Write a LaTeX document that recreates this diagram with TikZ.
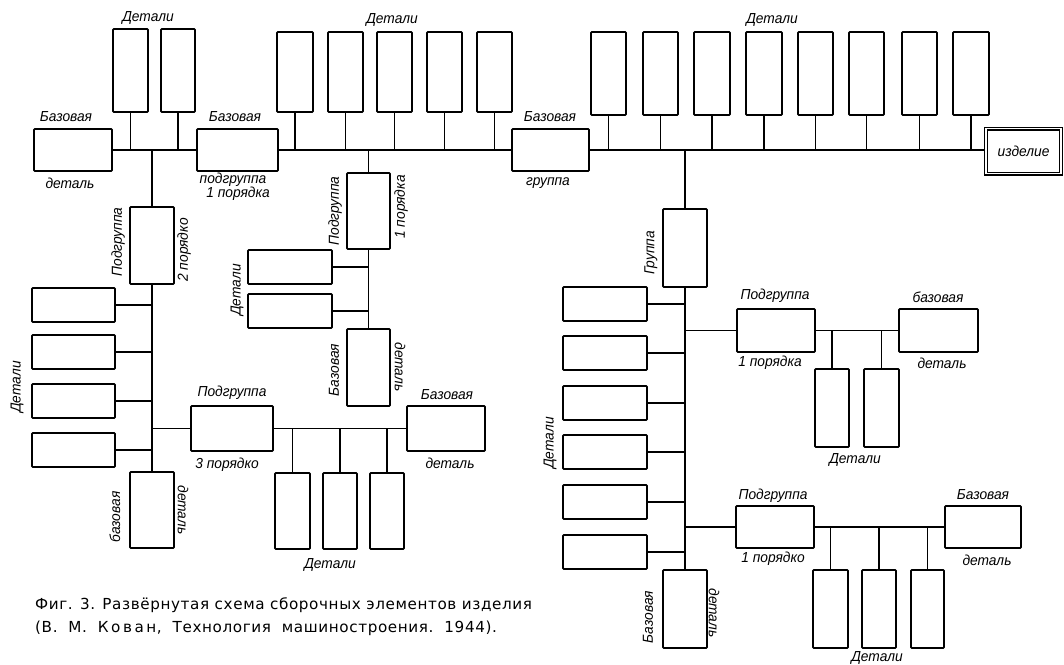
\documentclass[tikz,border=0pt]{standalone}
\usepackage{fontspec}
\setmainfont{PT Sans}
\newfontfamily\drf[FakeStretch=0.95]{Liberation Sans}
\newfontfamily\capf[LetterSpace=4]{DejaVu Sans}
\newcommand\bxx[5]{\node[bx,minimum width={#4-#2},minimum height={#5-#3}] (#1) at ({(#2+#4)/2},{(#3+#5)/2}) {};}
\tikzset{
  bx/.style={draw,rectangle,line width=1.7pt,inner sep=0pt,rounded corners=0.8pt},
  ln/.style={line width=1.8pt},
  lbl/.style={font=\drf\itshape\fontsize{14.5}{15}\selectfont,inner sep=0pt},
  capt/.style={font=\capf\fontsize{15.2}{17}\selectfont,inner sep=0pt,anchor=west}
}
\begin{document}
\begin{tikzpicture}[x=1pt,y=-1pt]
\useasboundingbox (0,0) rectangle (1064,664);
% ---------- top-left group ----------
\bxx{Abd}{34}{129}{112}{171}
\bxx{Ad1}{113}{29}{148}{112}
\bxx{Ad2}{161}{29}{195}{112}
\bxx{Abs}{197}{129}{278}{171}
% top middle details
\bxx{Td1}{277}{32}{313}{112}
\bxx{Td2}{328}{32}{363}{112}
\bxx{Td3}{377}{32}{412}{112}
\bxx{Td4}{427}{32}{462}{112}
\bxx{Td5}{477}{32}{512}{112}
% base group and top-right details
\bxx{BG}{512}{129}{589}{171}
\bxx{Rd1}{591}{32}{626}{115}
\bxx{Rd2}{643}{32}{678}{115}
\bxx{Rd3}{694}{32}{730}{115}
\bxx{Rd4}{746}{32}{782}{115}
\bxx{Rd5}{798}{32}{833}{115}
\bxx{Rd6}{849}{32}{884}{115}
\bxx{Rd7}{902}{32}{937}{115}
\bxx{Rd8}{953}{32}{989}{115}
\node[draw,rectangle,line width=1.2pt,double,double distance=1.6pt,inner sep=0pt,minimum width=75pt,minimum height=45pt] (IZ) at (1023.5,151) {};
% main line
\draw[ln] (Abd.east) -- (Abs.west);
\draw[ln] (Abs.east) -- (BG.west);
\draw[ln] (BG.east) -- (IZ.west |- BG.east);
\foreach \n in {Ad1,Ad2,Td1,Td2,Td3,Td4,Td5,Rd1,Rd2,Rd3,Rd4,Rd5,Rd6,Rd7,Rd8}
  \draw[ln] (\n.south) -- (\n.south |- Abd.east);
% ---------- left branch ----------
\bxx{As2}{130}{207}{174}{284}
\draw[ln] (As2.north) -- (As2.north |- Abd.east);
\bxx{L1}{32}{288}{115}{322}
\bxx{L2}{32}{335}{115}{369}
\bxx{L3}{32}{384}{115}{418}
\bxx{L4}{32}{433}{115}{467}
\bxx{Ab2}{130}{472}{174}{548}
\draw[ln] (As2.south) -- (Ab2.north);
\foreach \n in {L1,L2,L3,L4}
  \draw[ln] (\n.east) -- (\n.east -| As2.south);
\bxx{As3}{191}{406}{273}{451}
\draw[ln] (As3.west -| As2.south) -- (As3.west);
\bxx{Ab3}{407}{406}{485}{451}
\draw[ln] (As3.east) -- (Ab3.west);
\bxx{D3a}{275}{473}{310}{549}
\bxx{D3b}{323}{473}{357}{549}
\bxx{D3c}{370}{473}{404}{549}
\foreach \n in {D3a,D3b,D3c}
  \draw[ln] (\n.north) -- (\n.north |- As3.east);
% ---------- middle branch ----------
\bxx{Ms1}{347}{173}{390}{249}
\draw[ln] (Ms1.north) -- (Ms1.north |- Abd.east);
\bxx{Md1}{248}{250}{332}{284}
\bxx{Md2}{248}{294}{332}{328}
\bxx{Mbd}{347}{329}{390}{406}
\draw[ln] (Ms1.south) -- (Mbd.north);
\foreach \n in {Md1,Md2}
  \draw[ln] (\n.east) -- (\n.east -| Ms1.south);
% ---------- right branch ----------
\bxx{G}{663}{209}{707}{287}
\draw[ln] (G.north) -- (G.north |- BG.east);
\bxx{Gd1}{563}{287}{647}{321}
\bxx{Gd2}{563}{336}{647}{370}
\bxx{Gd3}{563}{386}{647}{420}
\bxx{Gd4}{563}{435}{647}{469}
\bxx{Gd5}{563}{485}{647}{519}
\bxx{Gd6}{563}{535}{647}{569}
\bxx{Gbd}{663}{570}{707}{648}
\draw[ln] (G.south) -- (Gbd.north);
\foreach \n in {Gd1,Gd2,Gd3,Gd4,Gd5,Gd6}
  \draw[ln] (\n.east) -- (\n.east -| G.south);
\bxx{RS1}{737}{309}{815}{352}
\bxx{RB1}{899}{309}{978}{352}
\draw[ln] (RS1.west -| G.south) -- (RS1.west);
\draw[ln] (RS1.east) -- (RB1.west);
\bxx{R1a}{815}{369}{849}{447}
\bxx{R1b}{864}{369}{899}{447}
\foreach \n in {R1a,R1b}
  \draw[ln] (\n.north) -- (\n.north |- RS1.east);
\bxx{RS2}{736}{506}{814}{548}
\bxx{RB2}{945}{506}{1021}{548}
\draw[ln] (RS2.west -| G.south) -- (RS2.west);
\draw[ln] (RS2.east) -- (RB2.west);
\bxx{R2a}{813}{570}{848}{648}
\bxx{R2b}{862}{570}{896}{648}
\bxx{R2c}{911}{570}{944}{648}
\foreach \n in {R2a,R2b,R2c}
  \draw[ln] (\n.north) -- (\n.north |- RS2.east);
% ---------- labels ----------
\node[lbl] (t1) at (148,18) {Детали};
\node[lbl] (t2) at (392,20) {Детали};
\node[lbl] (t3) at (772,20) {Детали};
\node[lbl] (t4) at (66,117) {Базовая};
\node[lbl] (t5) at (70,183) {деталь};
\node[lbl] (t6) at (235,117) {Базовая};
\node[lbl] (t7) at (233,180) {подгруппа};
\node[lbl] (t8) at (238,194) {1 порядка};
\node[lbl] (t9) at (550,117) {Базовая};
\node[lbl] (t10) at (548,183) {группа};
\node[lbl] (t11) at (IZ.center) {изделие};
\node[lbl,rotate=90] (t12) at (118,242) {Подгруппа};
\node[lbl,rotate=90] (t13) at (184,250) {2 порядко};
\node[lbl,rotate=90] (t14) at (17,387) {Детали};
\node[lbl,rotate=90] (t15) at (115,517) {базовая};
\node[lbl,rotate=-90] (t16) at (183,510) {деталь};
\node[lbl] (t17) at (232,393) {Подгруппа};
\node[lbl] (t18) at (227,465) {3 порядко};
\node[lbl] (t19) at (447,395) {Базовая};
\node[lbl] (t20) at (450,463) {деталь};
\node[lbl] (t21) at (330,565) {Детали};
\node[lbl,rotate=90] (t22) at (335,211) {Подгруппа};
\node[lbl,rotate=90] (t23) at (401,207) {1 порядка};
\node[lbl,rotate=90] (t24) at (237,290) {Детали};
\node[lbl,rotate=90] (t25) at (334,370) {Базовая};
\node[lbl,rotate=-90] (t26) at (400,367) {деталь};
\node[lbl,rotate=90] (t27) at (651,253) {Группа};
\node[lbl,rotate=90] (t28) at (550,443) {Детали};
\node[lbl] (t29) at (775,296) {Подгруппа};
\node[lbl] (t30) at (770,363) {1 порядка};
\node[lbl] (t31) at (938,297) {базовая};
\node[lbl] (t32) at (942,363) {деталь};
\node[lbl] (t33) at (855,460) {Детали};
\node[lbl] (t34) at (773,496) {Подгруппа};
\node[lbl] (t35) at (773,559) {1 порядко};
\node[lbl] (t36) at (983,495) {Базовая};
\node[lbl] (t37) at (987,560) {деталь};
\node[lbl] (t38) at (877,658) {Детали};
\node[lbl,rotate=90] (t39) at (648,617) {Базовая};
\node[lbl,rotate=-90] (t40) at (714,613) {деталь};
% ---------- caption ----------
\node[capt] (c1) at (35,605) {Фиг. 3. Развёрнутая схема сборочных элементов изделия};
\node[capt] (c2) at (35,628) {(В.\ \ М.\ \ К\,о\,в\,а\,н,\ \ Технология\ \ машиностроения.\ \ 1944).};
\end{tikzpicture}
\end{document}
